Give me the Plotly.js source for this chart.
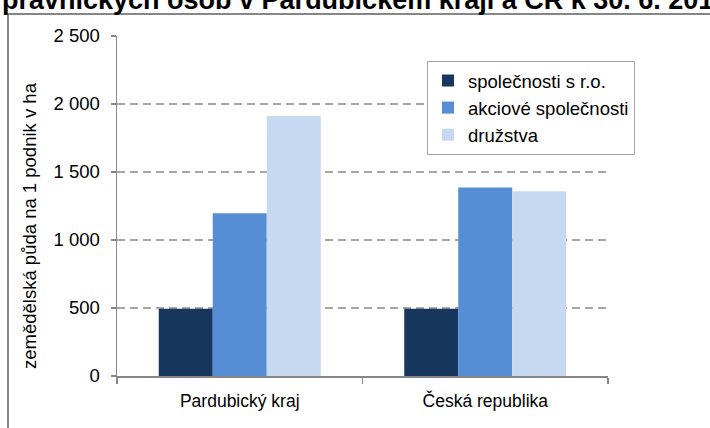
<!DOCTYPE html>
<html>
<head>
<meta charset="utf-8">
<script src="https://cdn.plot.ly/plotly-3.0.1.min.js"></script>
<style>
  html, body { margin: 0; padding: 0; background: #ffffff; }
  #chart { width: 710px; height: 428px; }
</style>
</head>
<body>
<div id="chart"></div>
<script>
var categories = ["Pardubický kraj", "Česká republika"];
var seriesNames = ["společnosti s r.o.", "akciové společnosti", "družstva"];
var sro = [494, 494];
var akciove = [1197, 1386];
var druzstva = [1912, 1359];
var yTickVals = [0, 500, 1000, 1500, 2000, 2500];
var yTickText = ["0", "500", "1 000", "1 500", "2 000", "2 500"];
var titleText = "právnických osob v Pardubickém kraji a ČR k 30. 6. 2010";
var yTitleText = "zemědělská půda na 1 podnik v ha";

var colors = ["#17375E", "#558ED5", "#C6D9F1"];
var values = [sro, akciove, druzstva];
var font = "Liberation Sans, Arial, sans-serif";

var traces = values.map(function (v, i) {
  return {
    type: "bar",
    x: categories,
    y: v,
    name: seriesNames[i],
    legendgroup: "g" + i,
    marker: { color: colors[i], line: { width: 0 } },
    hoverinfo: "x+y+name"
  };
});

var L = 117, R = 608, T = 36, B = 376;
var W = R - L, H = B - T;
function px(x) { return (x - L) / W; }
function py(y) { return (B - y) / H; }

var layout = {
  width: 710,
  height: 428,
  margin: { l: L, r: 710 - R, t: T, b: 428 - B, pad: 0 },
  paper_bgcolor: "#ffffff",
  plot_bgcolor: "#ffffff",
  font: { family: font, size: 18, color: "#000000" },
  barmode: "group",
  bargap: 0.34,
  bargroupgap: 0,
  showlegend: true,
  legend: {
    x: px(427), y: py(61), xanchor: "left", yanchor: "top",
    bgcolor: "#ffffff", bordercolor: "#a6a6a6", borderwidth: 1,
    font: { family: font, size: 18.5, color: "#000000" },
    tracegroupgap: 0,
    traceorder: "normal"
  },
  xaxis: {
    type: "category",
    showline: true, linecolor: "#868686", linewidth: 1.5,
    ticks: "outside", tickson: "boundaries", ticklen: 6, tickcolor: "#868686", tickwidth: 1.5,
    ticklabelstandoff: 8,
    showgrid: false, zeroline: false,
    tickfont: { family: font, size: 17.5, color: "#000000" },
    fixedrange: true
  },
  yaxis: {
    range: [0, 2500],
    tickvals: yTickVals, ticktext: yTickText,
    showline: true, linecolor: "#868686", linewidth: 1.5,
    ticks: "outside", ticklen: 5, tickcolor: "#868686", tickwidth: 1.5,
    ticklabelstandoff: 7,
    showgrid: true, gridcolor: "#a6a6a6", gridwidth: 1.5, griddash: "8px,5px",
    zeroline: false,
    tickfont: { family: font, size: 18.5, color: "#000000" },
    fixedrange: true
  },
  annotations: [
    {
      text: "<b>" + titleText + "</b>",
      xref: "paper", yref: "paper",
      x: px(0), y: py(-0.5), xanchor: "left", yanchor: "middle",
      showarrow: false,
      font: { family: font, size: 27, color: "#000000" }
    },
    {
      text: yTitleText,
      xref: "paper", yref: "paper",
      x: px(29), y: py(226), xanchor: "center", yanchor: "middle",
      textangle: -90,
      showarrow: false,
      font: { family: font, size: 18.5, color: "#000000" }
    }
  ],
  shapes: [
    {
      type: "rect", xref: "paper", yref: "paper",
      x0: px(8), x1: px(720), y0: py(440), y1: py(14),
      line: { color: "#868686", width: 2 },
      fillcolor: "rgba(0,0,0,0)",
      layer: "below"
    }
  ]
};

Plotly.newPlot("chart", traces, layout, { displayModeBar: false, staticPlot: true });
</script>
</body>
</html>
